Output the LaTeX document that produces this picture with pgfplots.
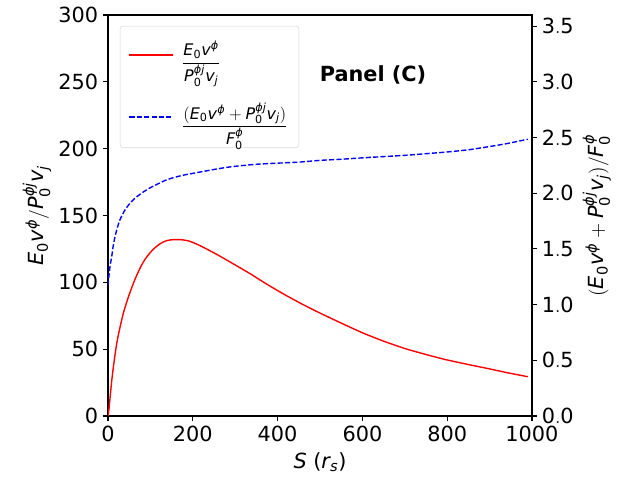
\documentclass[border=0pt]{standalone}
\usepackage{mathspec}
\setmainfont{DejaVu Sans}
\setmathsfont(Digits,Latin,Greek){DejaVu Sans}
\usepackage{pgfplots}
\pgfplotsset{compat=1.18}
\pgfplotstableread{
S v
0 0
2.4 5.5
5 14
8.6 25.7
12 35
16.5 45.6
21 55
26 63
31 70
36 76.8
42 83
48 89
56 96
64 102.5
72 108.2
79 112.8
87 117
95 120.5
107 124.8
119 128
132 130.5
146 131.7
162 132
178 131.7
192 130.8
205 129.2
220 127
237 124.2
256 121
276 117.4
300 113
335 106.5
370 99.5
410 92
453 84.5
500 77
550 69.5
602 62
650 56
700 50.5
750 46
799 42
850 38.5
893 35.7
940 32.5
990 29.4
}\redtab
\pgfplotstableread{
S v
0 1.17
2 1.25
5 1.35
8.7 1.43
12 1.52
16.5 1.61
22 1.69
28 1.76
40 1.85
52 1.91
65 1.96
83 2.01
100 2.05
138 2.12
175 2.16
217 2.19
260 2.22
296 2.24
350 2.26
400 2.27
453 2.28
500 2.295
550 2.305
610 2.32
700 2.34
750 2.355
799 2.37
850 2.39
893 2.415
940 2.445
990 2.485
}\bluetab
\pgfplotsset{
  common/.style={
    width=305.28bp, height=288.72bp, scale only axis,
    at={(0,0)}, anchor=south west,
    xmin=0, xmax=1000,
    tick align=outside, major tick length=3.5bp,
    every tick/.style={black, line width=0.8bp},
    axis line style={line width=0.8bp},
    tick label style={font=\fontsize{15bp}{18bp}\selectfont},
    label style={font=\fontsize{15bp}{18bp}\selectfont},
  }
}
\begin{document}
\begin{tikzpicture}
\useasboundingbox (-77.76bp,-46.08bp) rectangle (383.04bp,299.52bp);
\begin{axis}[common,
  ymin=0, ymax=300,
  xtick={0,200,400,600,800,1000},
  ytick={0,50,100,150,200,250,300},
  xticklabel style={/pgf/number format/.cd, 1000 sep={}},
  xtick pos=left, ytick pos=left,
  xlabel={$S$ ($r_s$)},
  ylabel={$E_0v^{\varphi}/P_0^{\varphi j}v_j$},
  x label style={at={(axis description cs:0.5,-0.115)}, anchor=center},
  y label style={at={(axis description cs:-0.1675,0.5)}, anchor=center},
  legend cell align=left,
  legend style={at={(0.028,0.973)}, anchor=north west, draw=black!15, rounded corners=2pt,
    fill=white, font=\fontsize{11.5bp}{14bp}\selectfont, row sep=20bp,
    inner xsep=6bp, inner ysep=9bp},
]
\addlegendimage{legend image code/.code={\draw[color=red, line width=1.2bp] (0bp,0bp) -- (31bp,0bp);}}
\addlegendentry{\hspace{4bp}$\displaystyle\frac{E_0v^{\varphi}}{P_0^{\varphi j}v_j}$}
\addlegendimage{legend image code/.code={\draw[color=blue, line width=1.4bp, dash pattern=on 3.7bp off 1.6bp] (0bp,0bp) -- (31bp,0bp);}}
\addlegendentry{\hspace{4bp}$\displaystyle\frac{(E_0v^{\varphi}+P_0^{\varphi j}v_j)}{F_0^{\varphi}}$}
\addplot[red, line width=1bp, smooth, tension=0.4, forget plot] table[x=S,y=v] {\redtab};
\node[font=\fontsize{15bp}{18bp}\selectfont\bfseries] at (axis cs:625,255) {Panel (C)};
\end{axis}
\begin{axis}[common,
  axis y line*=right, axis x line=none,
  ymin=0, ymax=3.6,
  ytick={0,0.5,1,1.5,2,2.5,3,3.5},
  yticklabel style={/pgf/number format/.cd, fixed, fixed zerofill, precision=1},
  ylabel={$(E_0v^{\varphi}+P_0^{\varphi j}v_j)/F_0^{\varphi}$},
  y label style={at={(axis description cs:1.153,0.5)}, anchor=center},
]
\addplot[blue, line width=1bp, dash pattern=on 3.7bp off 1.6bp, smooth, tension=0.4] table[x=S,y=v] {\bluetab};
\end{axis}
\end{tikzpicture}
\end{document}
